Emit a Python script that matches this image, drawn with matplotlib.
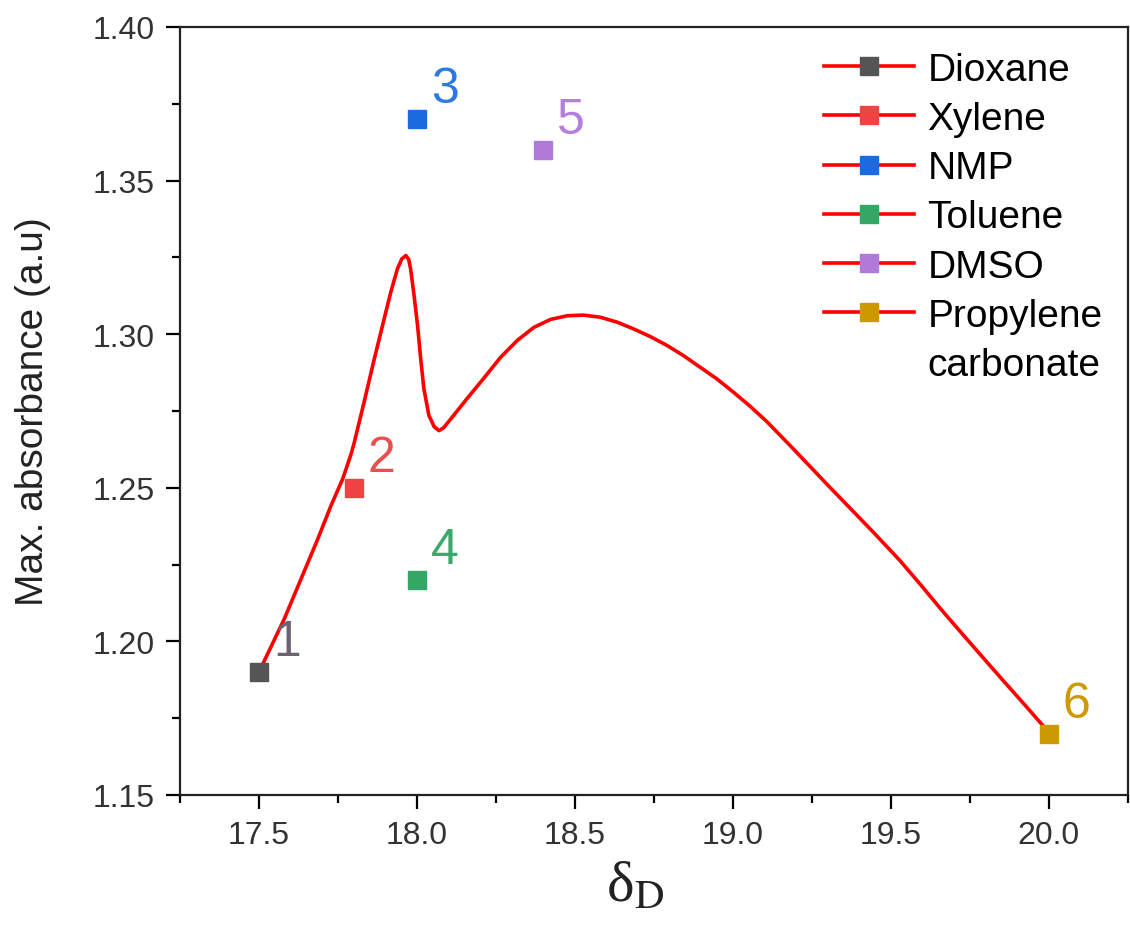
import matplotlib.pyplot as plt
from matplotlib.lines import Line2D
from matplotlib.ticker import MultipleLocator

plt.rcParams['font.family'] = ['Liberation Sans', 'DejaVu Sans']
plt.rcParams['mathtext.fontset'] = 'stix'

# solvent points
solvents = ['Dioxane', 'Xylene', 'NMP', 'Toluene', 'DMSO', 'Propylene carbonate']
numbers = ['1', '2', '3', '4', '5', '6']
delta_d = [17.5, 17.8, 18.0, 18.0, 18.4, 20.0]
absorb = [1.19, 1.25, 1.37, 1.22, 1.36, 1.17]
marker_colors = ['#555555', '#ee4444', '#1a6be0', '#33a866', '#b07ad8', '#cc9900']
label_colors = ['#6a6472', '#e85050', '#2a7ae2', '#3aa86a', '#b57fe0', '#cc9a06']

# red fitted curve
curve_x = [17.50, 17.517, 17.580, 17.633, 17.686, 17.728, 17.765, 17.791, 17.801, 17.833,
           17.864, 17.896, 17.917, 17.938, 17.952, 17.965, 17.974, 17.980, 17.991, 18.002,
           18.012, 18.022, 18.038, 18.055, 18.070, 18.085, 18.107, 18.160, 18.212, 18.265,
           18.318, 18.370, 18.423, 18.476, 18.528, 18.581, 18.634, 18.686, 18.739, 18.792,
           18.844, 18.897, 18.95, 19.002, 19.055, 19.108, 19.192, 19.302, 19.445, 19.529,
           19.598, 19.656, 19.708, 19.803, 19.856, 19.908, 19.972, 20.0]
curve_y = [1.190, 1.1937, 1.2073, 1.2203, 1.2333, 1.2442, 1.2529, 1.2608, 1.2645, 1.2780,
           1.2915, 1.3049, 1.3136, 1.3212, 1.3245, 1.3256, 1.3243, 1.3212, 1.3125, 1.3028,
           1.2919, 1.2822, 1.2735, 1.2698, 1.2686, 1.2696, 1.2724, 1.2792, 1.2857, 1.2925,
           1.2980, 1.3022, 1.3048, 1.3060, 1.3062, 1.3055, 1.3039, 1.3017, 1.2992, 1.2963,
           1.293, 1.2892, 1.2854, 1.2811, 1.2765, 1.2715, 1.2626, 1.2507, 1.2355, 1.2263,
           1.2180, 1.2108, 1.2046, 1.1934, 1.1872, 1.1812, 1.1737, 1.1705]

fig = plt.figure(figsize=(11.3, 9.29), dpi=100)
ax = fig.add_axes([0.1593, 0.1432, 0.8387, 0.8267])

ax.plot(curve_x, curve_y, color='#ff0000', lw=2.6, zorder=2,
        solid_joinstyle='round')
for x, y, c, lc, n in zip(delta_d, absorb, marker_colors, label_colors, numbers):
    ax.plot(x, y, 's', color=c, ms=12.5, zorder=3)
    ax.annotate(n, (x, y), xytext=(28, 30), textcoords='offset pixels',
                ha='center', va='center', fontsize=36, color=lc)

ax.set_xlim(17.25, 20.25)
ax.set_ylim(1.15, 1.40)
ax.xaxis.set_major_locator(MultipleLocator(0.5))
ax.xaxis.set_minor_locator(MultipleLocator(0.25))
ax.yaxis.set_major_locator(MultipleLocator(0.05))
ax.yaxis.set_minor_locator(MultipleLocator(0.025))
ax.xaxis.set_major_formatter(plt.FormatStrFormatter('%.1f'))
ax.yaxis.set_major_formatter(plt.FormatStrFormatter('%.2f'))
ax.tick_params(which='major', direction='out', length=10, width=1.6,
               labelsize=23, labelcolor='#333333', pad=8)
ax.tick_params(which='minor', direction='out', length=6, width=1.6)
for s in ax.spines.values():
    s.set_linewidth(1.6)
    s.set_color('#222222')

ax.set_ylabel('Max. absorbance (a.u)', fontsize=28, color='#222222', labelpad=30)
ax.set_xlabel('δ$_\\mathrm{D}$', fontsize=42, color='#222222', labelpad=2,
              family=['Liberation Serif', 'DejaVu Serif'])
ax.xaxis.set_label_coords(0.48, -0.085)

# legend: Origin-style line+symbol, long name wrapped onto a second row
handles = [Line2D([0], [0], color='#ff0000', lw=2.6, marker='s', ms=12.5,
                  mfc=c, mec=c) for c in marker_colors]
handles.append(Line2D([0], [0], color='none'))
first, second = solvents[-1].split(' ')
labels = solvents[:-1] + [first, second]
ax.legend(handles, labels, loc='upper right', frameon=False, fontsize=28,
          handlelength=2.3, labelspacing=0.34, handletextpad=0.35,
          borderaxespad=0.2, bbox_to_anchor=(0.998, 0.998))

fig.savefig('out.png', dpi=100)
